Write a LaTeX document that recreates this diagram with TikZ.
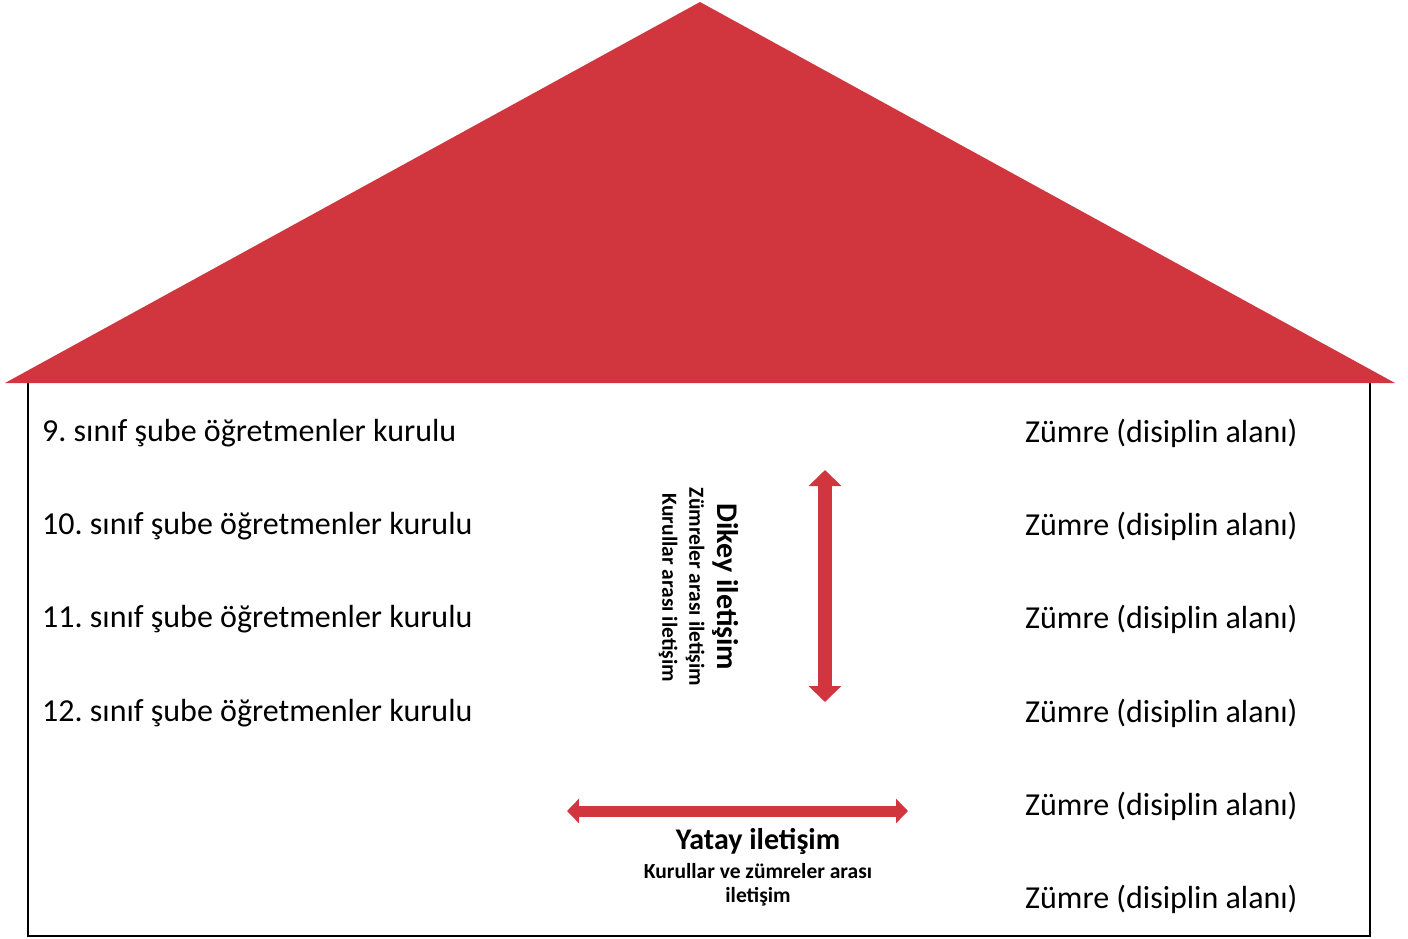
\documentclass[tikz,border=0pt]{standalone}
\usepackage{fontspec}
\setmainfont{Carlito}
\usepackage{tikz}
\usetikzlibrary{arrows.meta,positioning}
\definecolor{roofred}{RGB}{209,54,63}
\frenchspacing

\begin{document}
\begin{tikzpicture}[x=1pt,y=-1pt,
  kurul/.style={anchor=west,inner sep=0pt,font=\fontsize{32}{38}\selectfont},
  zumre/.style={anchor=west,inner sep=0pt,font=\fontsize{32}{38}\selectfont},
  baslik/.style={inner sep=0pt,font=\fontsize{30}{36}\selectfont\bfseries},
  aciklama/.style={inner sep=0pt,font=\fontsize{21.5}{26}\selectfont\bfseries},
  ok/.style={draw=roofred,line cap=butt}]
\useasboundingbox (0,0) rectangle (1408,938);
\draw[line width=2.5pt] (28,383) -- (28,936) -- (1370,936) -- (1370,383);
\fill[roofred] (5,383) -- (700,2) -- (1395,383) -- cycle;
% kurullar
\node[kurul] (k9) at (42,433) {9. sınıf şube öğretmenler kurulu};
\node[kurul] (k10) at (42,526) {10. sınıf şube öğretmenler kurulu};
\node[kurul] (k11) at (42,619) {11. sınıf şube öğretmenler kurulu};
\node[kurul] (k12) at (42,713) {12. sınıf şube öğretmenler kurulu};
% zumreler
\foreach \i/\y in {1/433,2/526,3/619,4/713,5/806,6/899}
  \node[zumre] (z\i) at (1025,\y) {Zümre (disiplin alanı)};
% dikey
\coordinate (dust) at (825,470);
\coordinate (dalt) at (825,702);
\draw[ok,line width=14pt,{Triangle[length=16pt,width=32pt]}-{Triangle[length=16pt,width=32pt]}] (dust) -- (dalt);
\node[baslik,rotate=-90] (dikey) at (726,587) {Dikey iletişim};
\node[aciklama,rotate=-90] (dikey2) at (695,587) {Zümreler arası iletişim};
\node[aciklama,rotate=-90] (dikey3) at (668,588) {Kurullar arası iletişim};
% yatay
\coordinate (ysol) at (567,811);
\coordinate (ysag) at (908,811);
\draw[ok,line width=11pt,{Triangle[length=12pt,width=24pt]}-{Triangle[length=12pt,width=24pt]}] (ysol) -- (ysag);
\node[baslik] (yatay) at (758,841) {Yatay iletişim};
\node[aciklama] (yatay2) at (758,871) {Kurullar ve zümreler arası};
\node[aciklama] (yatay3) at (758,897) {iletişim};
\end{tikzpicture}
\end{document}
